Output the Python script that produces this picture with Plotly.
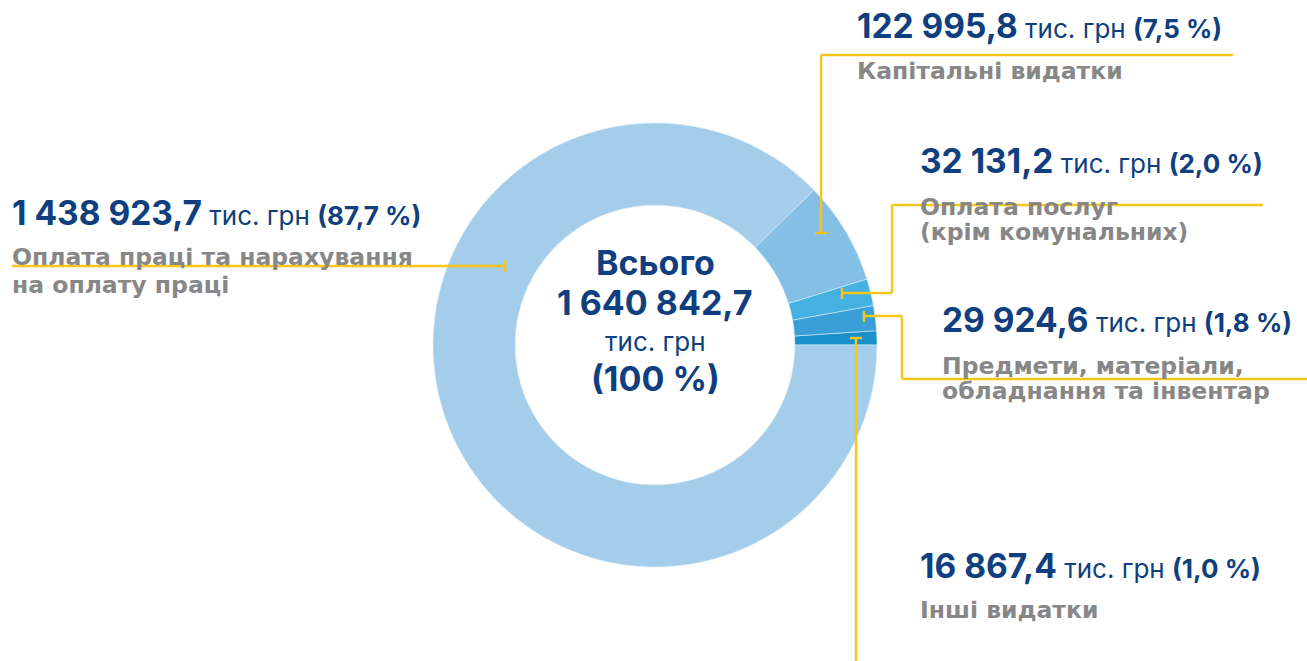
import plotly.graph_objects as go

W, H = 1307, 661

categories = ["Інші видатки", "Предмети, матеріали, обладнання та інвентар",
              "Оплата послуг (крім комунальних)", "Капітальні видатки",
              "Оплата праці та нарахування на оплату праці"]
values = [16867.4, 29924.6, 32131.2, 122995.8, 1438923.7]
value_labels = ["16 867,4", "29 924,6", "32 131,2", "122 995,8", "1 438 923,7"]
pct_labels = ["1,0 %", "1,8 %", "2,0 %", "7,5 %", "87,7 %"]
name_lines = [["Інші видатки"],
              ["Предмети, матеріали,", "обладнання та інвентар"],
              ["Оплата послуг", "(крім комунальних)"],
              ["Капітальні видатки"],
              ["Оплата праці та нарахування", "на оплату праці"]]
colors = ["#1a90ca", "#3a9fd9", "#45b1e1", "#84bfe6", "#a4cdec"]
total_label = "1 640 842,7"
unit = "тис. грн"

BLUE = "#0f3f7e"
GRAY = "#878787"
YEL = "#f7c619"
FONT = "Inter"
LFONT = "DejaVu Sans"

cx, cy, R = 655, 345, 222

def px(x):
    return x / W

def py(y):
    return 1 - y / H

# plotly places the first slice clockwise of `rotation` when direction is
# counterclockwise, so offset by the first slice's angle to start at 3 o'clock
first_angle = 360 * values[0] / sum(values)

fig = go.Figure()
fig.add_trace(go.Pie(
    labels=categories, values=values, sort=False, direction="counterclockwise",
    rotation=90 - first_angle, hole=0.63, textinfo="none",
    hoverinfo="label+value+percent",
    marker=dict(colors=colors, line=dict(color="#d8ecf8", width=0.6)),
    domain=dict(x=[px(cx - R), px(cx + R)], y=[py(cy + R), py(cy - R)]),
    showlegend=False,
))

annotations = []

def add_text(text, x, y, size, color, xanchor="left", family=FONT):
    annotations.append(dict(
        text=text, x=px(x), y=py(y), xref="paper", yref="paper",
        xanchor=xanchor, yanchor="middle", showarrow=False,
        font=dict(family=family, size=size, color=color)))

# label block positions: (left x, value line y, first name line y, line gap)
blocks = [
    (920, 566, 610, 26),
    (942, 320, 366, 25),
    (920, 161, 207, 25),
    (857, 26, 71, 25),
    (12, 213, 257, 28),
]
for i, (lx, vy, ny, gap) in enumerate(blocks):
    t = (f"<b>{value_labels[i]}</b><span style='font-size:26px'> {unit} "
         f"<b>({pct_labels[i]})</b></span>")
    add_text(t, lx - 2, vy, 33.5, BLUE)
    for j, line in enumerate(name_lines[i]):
        add_text(f"<b>{line}</b>", lx - 2, ny + j * gap, 23.5, GRAY, family=LFONT)

# centre text
add_text("<b>Всього</b>", cx, 262, 34, BLUE, "center")
add_text(f"<b>{total_label}</b>", cx, 302, 34, BLUE, "center")
add_text(unit, cx, 341, 26, BLUE, "center")
add_text("<b>(100 %)</b>", cx, 378, 34, BLUE, "center")

# leader lines
segs = [
    # Капітальні видатки
    (821, 55, 1233, 55), (821, 55, 821, 233), (815, 233, 827, 233),
    # Оплата послуг
    (892, 205, 1263, 205), (892, 205, 892, 293), (842, 293, 892, 293), (842, 288, 842, 299),
    # Предмети
    (864, 316, 902, 316), (864, 311, 864, 322), (902, 316, 902, 379), (902, 379, 1307, 379),
    # Інші
    (850, 338, 862, 338), (856, 338, 856, 661),
    # Оплата праці
    (12, 266, 505, 266), (505, 260, 505, 272),
]
shapes = [dict(type="line", xref="paper", yref="paper",
               x0=px(a), y0=py(b), x1=px(c), y1=py(d),
               line=dict(color=YEL, width=2.4)) for a, b, c, d in segs]

fig.update_layout(
    width=W, height=H, margin=dict(l=0, r=0, t=0, b=0),
    paper_bgcolor="white", plot_bgcolor="white",
    annotations=annotations, shapes=shapes,
)

fig.write_html("out.html", config={"displayModeBar": False},
               post_script="document.body.style.margin='0';")
